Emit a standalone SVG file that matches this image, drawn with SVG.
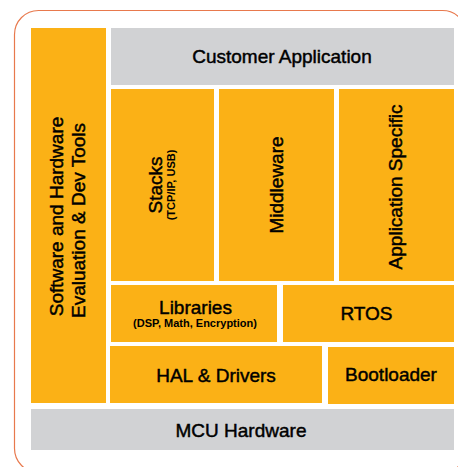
<svg xmlns="http://www.w3.org/2000/svg" width="458" height="467" viewBox="0 0 458 467">
<style>
.o{fill:#FBB116}
.g{fill:#D1D2D4}
text{font-family:"Liberation Sans",Arial,sans-serif;fill:#000;text-anchor:middle;stroke:#000;stroke-width:0.45}
.t{font-size:19px}
.s{font-size:11px;font-weight:bold;stroke:none}
</style>
<rect x="14.5" y="10.5" width="452" height="462" rx="24" fill="#fff" stroke="#E8794D" stroke-width="1.2"/>
<g id="tools"><rect class="o" x="31" y="28" width="75" height="375"/>
<text class="t" transform="translate(63,216.5) rotate(-90)">Software and Hardware</text>
<text class="t" transform="translate(85,220.5) rotate(-90)">Evaluation &amp; Dev Tools</text></g>
<g id="customer"><rect class="g" x="111" y="28" width="343" height="57"/>
<text class="t" x="282" y="63">Customer Application</text></g>
<g id="stacks"><rect class="o" x="111" y="89" width="103" height="192"/>
<text class="t" transform="translate(161.5,185) rotate(-90)">Stacks</text>
<text class="s" transform="translate(175,185) rotate(-90)">(TCP/IP, USB)</text></g>
<g id="middleware"><rect class="o" x="219" y="89" width="115" height="192"/>
<text class="t" transform="translate(282.5,185) rotate(-90)">Middleware</text></g>
<g id="appspecific"><rect class="o" x="339" y="89" width="115" height="192"/>
<text class="t" transform="translate(401.5,187) rotate(-90)">Application Specific</text></g>
<g id="libraries"><rect class="o" x="111" y="285" width="166" height="57"/>
<text class="t" x="195.5" y="314">Libraries</text>
<text class="s" x="195" y="326.5">(DSP, Math, Encryption)</text></g>
<g id="rtos"><rect class="o" x="283" y="285" width="171" height="57"/>
<text class="t" x="366.5" y="320">RTOS</text></g>
<g id="hal"><rect class="o" x="110" y="346" width="212" height="57"/>
<text class="t" x="216" y="382">HAL &amp; Drivers</text></g>
<g id="bootloader"><rect class="o" x="328" y="347" width="126" height="57"/>
<text class="t" x="391" y="381">Bootloader</text></g>
<g id="mcu"><rect class="g" x="31" y="409" width="423" height="41"/>
<text class="t" x="241" y="437">MCU Hardware</text></g>
<g id="connectors"/>
</svg>
